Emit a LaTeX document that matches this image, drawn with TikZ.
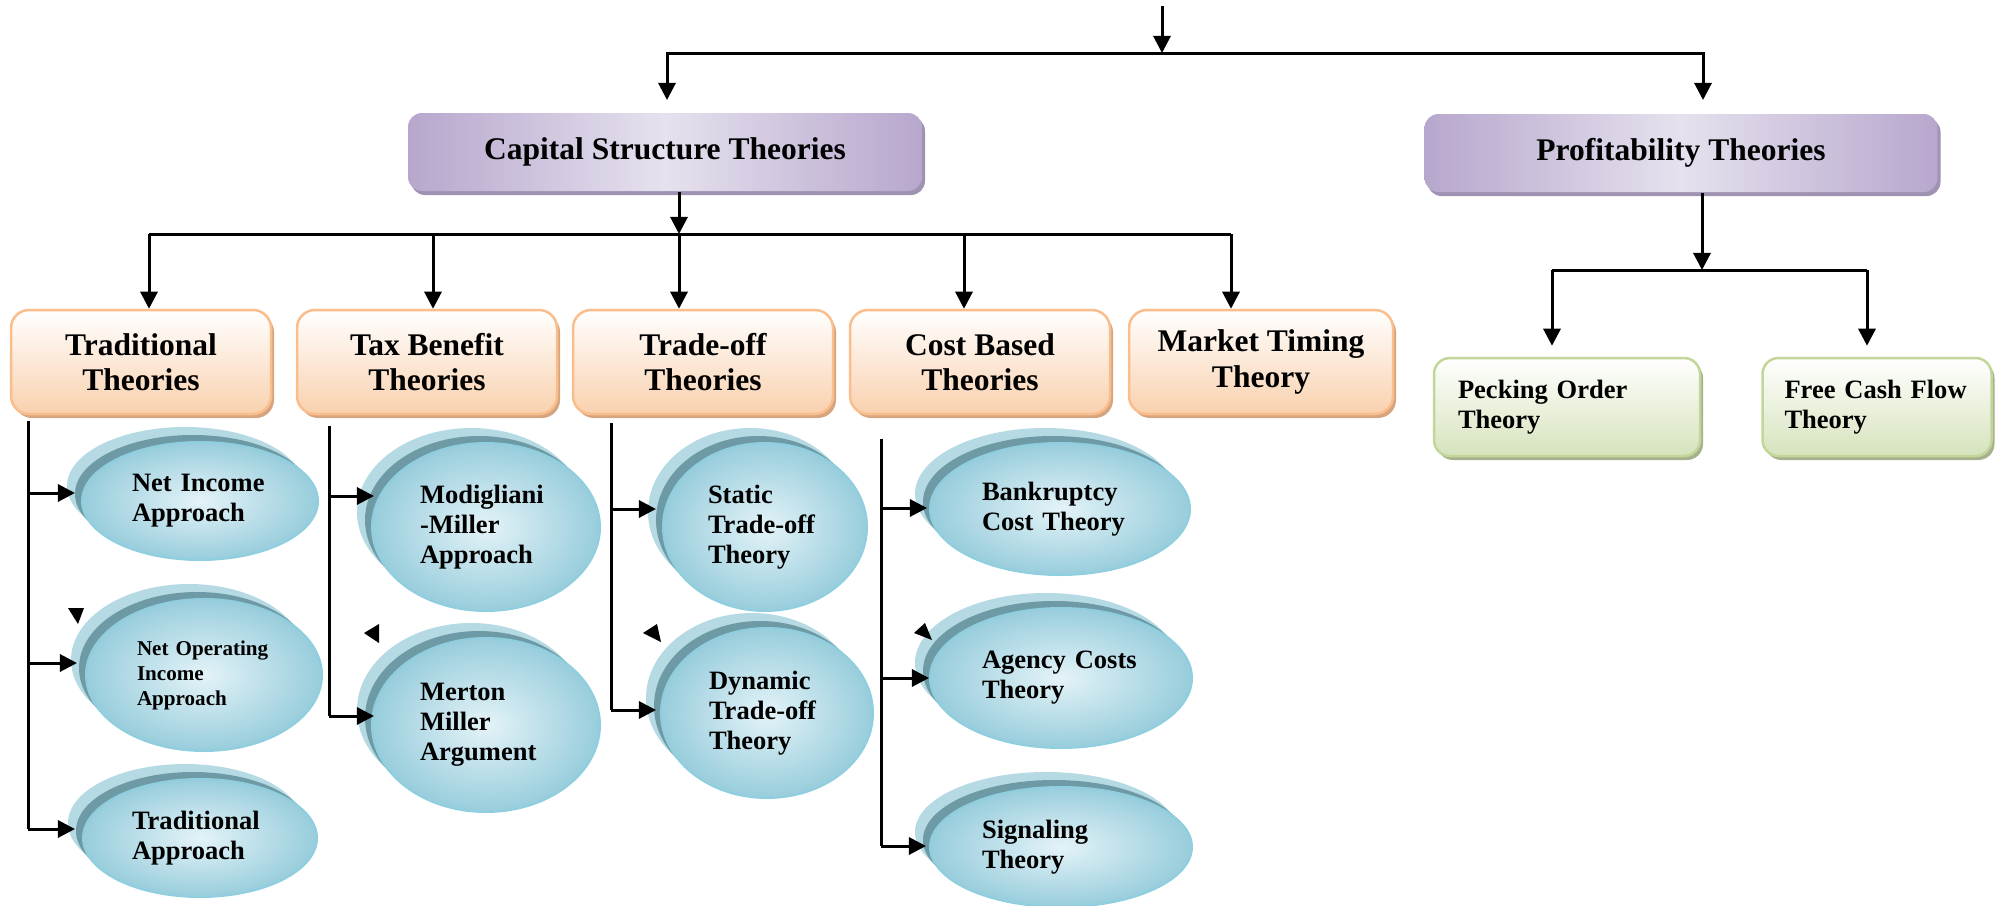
\documentclass[tikz,border=0pt]{standalone}
\usepackage{fontspec}
\setmainfont{Liberation Serif}
\usetikzlibrary{arrows.meta,shapes.geometric,shadows}

\newlength{\du}
\setlength{\du}{0.01cm}

\definecolor{capedge}{RGB}{183,167,205}
\definecolor{caplight}{RGB}{230,225,238}
\definecolor{capshadow}{RGB}{160,146,178}
\definecolor{grpborder}{RGB}{249,190,140}
\definecolor{grpfill}{RGB}{249,209,174}
\definecolor{grpshadow}{RGB}{214,165,128}
\definecolor{prfborder}{RGB}{194,214,154}
\definecolor{prffill}{RGB}{214,227,188}
\definecolor{prfshadow}{RGB}{168,177,141}
\definecolor{ovallight}{RGB}{228,243,248}
\definecolor{ovaldark}{RGB}{152,205,220}
\definecolor{ovalborder}{RGB}{143,206,222}
\definecolor{ovalbandcol}{RGB}{110,154,165}
\definecolor{ovalbackcol}{RGB}{182,218,227}

\tikzset{
  conn/.style={draw=black, line width=3\du},
  arr/.style={conn, -{Triangle[length=0.17cm,width=0.17cm]}},
  capbox/.style={rectangle, rounded corners=14\du, minimum height=78\du,
    left color=capedge, right color=capedge, middle color=caplight,
    drop shadow={shadow xshift=3\du, shadow yshift=-4\du, fill=capshadow, opacity=1},
    font=\fontsize{8.96}{10}\selectfont\bfseries},
  grpbox/.style={rectangle, rounded corners=18\du, minimum width=260\du, minimum height=104\du,
    draw=grpborder, line width=2.5\du, top color=white, bottom color=grpfill,
    drop shadow={shadow xshift=3\du, shadow yshift=-4\du, fill=grpshadow, opacity=1},
    align=center, font=\fontsize{8.96}{10}\selectfont\bfseries},
  prfbox/.style={rectangle, rounded corners=16\du, minimum height=98\du, inner xsep=0pt,
    draw=prfborder, line width=2.5\du, top color=white, bottom color=prffill,
    drop shadow={shadow xshift=3\du, shadow yshift=-4\du, fill=prfshadow, opacity=1},
    align=left, font=\fontsize{7.54}{8.5}\selectfont\bfseries},
  oval/.style={ellipse, inner sep=0pt, draw=ovalborder, line width=2\du,
    inner color=ovallight, outer color=ovaldark,
    align=left, font=\fontsize{7.54}{8.5}\selectfont\bfseries},
  ovalback/.style={fill=ovalbackcol},
  ovalband/.style={fill=ovalbandcol}
}

% oval with two back layers: [options], name, x, y, rx, ry, text
\newcommand{\theoryoval}[7][]{%
  \fill[ovalback] (#3\du-15\du,#4\du-15\du) ellipse ({#5\du} and {#6\du});
  \fill[ovalband] (#3\du-7\du,#4\du-7\du) ellipse ({#5\du} and {#6\du});
  \node[oval, minimum width=2*#5\du, minimum height=2*#6\du, #1] (#2) at (#3\du,#4\du) {#7};
}

\begin{document}
\begin{tikzpicture}
\pgftransformxscale{1.000000}
\pgftransformyscale{-1.000000}
\useasboundingbox (0\du,0\du) rectangle (1999\du,906\du);

% top level
\node[capbox, minimum width=514\du] (capital) at (665\du,152\du) {Capital Structure Theories};
\node[capbox, minimum width=513\du] (profit) at (1681\du,153\du) {Profitability Theories};

\coordinate (root) at (1162\du,6\du);
\coordinate (rootbus) at (1162\du,53\du);
\coordinate (capin) at (667\du,100\du);
\coordinate (profin) at (1703\du,100\du);
\draw[arr] (root) -- (rootbus);
\draw[arr] (rootbus) -| (capin);
\draw[arr] (rootbus) -| (profin);

% capital structure groups
\node[grpbox] (trad) at (141\du,362\du) {Traditional\\Theories};
\node[grpbox] (tax) at (427\du,362\du) {Tax Benefit\\Theories};
\node[grpbox] (tradeoff) at (703\du,362\du) {Trade-off\\Theories};
\node[grpbox] (cost) at (980\du,362\du) {Cost Based\\Theories};
\node[grpbox, minimum width=264\du] (market) at (1261\du,362\du) {Market Timing\\Theory};

\coordinate (capbus) at (679\du,234\du);
\coordinate (busl) at (149\du,234\du);
\coordinate (busr) at (1231\du,234\du);
\coordinate (dtax) at (433\du,234\du);
\coordinate (dcost) at (964\du,234\du);
\draw[conn] (busl) -- (busr);
\draw[arr] (capital.south -| capbus) -- (capbus);
\draw[arr] (busl) -- (busl |- trad.north);
\draw[arr] (dtax) -- (dtax |- tax.north);
\draw[arr] (capbus) -- (capbus |- tradeoff.north);
\draw[arr] (dcost) -- (dcost |- cost.north);
\draw[arr] (busr) -- (busr |- market.north);

% profitability
\node[prfbox, minimum width=266\du, text width=218\du] (pecking) at (1567\du,407\du) {Pecking Order\\Theory};
\node[prfbox, minimum width=229\du, text width=185\du] (freecash) at (1877\du,407\du) {Free Cash Flow\\Theory};

\coordinate (profbus) at (1702\du,270\du);
\coordinate (pbl) at (1552\du,270\du);
\coordinate (pbr) at (1867\du,270\du);
\draw[arr] (profit.south -| profbus) -- (profbus);
\draw[conn] (pbl) -- (pbr);
\draw[arr, shorten >=11\du] (pbl) -- (pbl |- pecking.north);
\draw[arr, shorten >=11\du] (pbr) -- (pbr |- freecash.north);

% ovals
\theoryoval[text width=136\du]{ni}{200}{501}{118}{59}{Net Income\\Approach}
\theoryoval[text width=134\du, font=\fontsize{6}{7.1}\selectfont\bfseries]{noi}{204}{675}{118}{76}{Net Operating\\Income\\Approach}
\theoryoval[text width=136\du]{ta}{200}{838}{117}{59}{Traditional\\Approach}
\theoryoval[text width=132\du]{mm}{486}{527}{114}{84}{Modigliani\\-Miller\\Approach}
\theoryoval[text width=132\du]{mer}{486}{725}{114}{87}{Merton\\Miller\\Argument}
\theoryoval[text width=114\du]{sto}{765}{527}{102}{84}{Static\\Trade-off\\Theory}
\theoryoval[text width=116\du]{dto}{767}{713}{106}{85}{Dynamic\\Trade-off\\Theory}
\theoryoval[text width=156\du]{bank}{1060}{509}{130}{66}{Bankruptcy\\Cost Theory}
\theoryoval[text width=158\du]{agency}{1061}{678}{131}{70}{Agency Costs\\Theory}
\theoryoval[text width=158\du]{sig}{1061}{847}{131}{60}{Signaling\\Theory}

% branch lines
\coordinate (c1top) at (28\du,421\du);
\coordinate (a11) at (28\du,493\du);
\coordinate (a12) at (28\du,663\du);
\coordinate (a13) at (28\du,829\du);
\draw[conn] (c1top) -- (a13);
\draw[arr, shorten >=6\du] (a11) -- (a11 -| ni.west);
\draw[arr, shorten >=8\du] (a12) -- (a12 -| noi.west);
\draw[arr, shorten >=7\du] (a13) -- (a13 -| ta.west);

\coordinate (c2top) at (329\du,426\du);
\coordinate (a21) at (329\du,496\du);
\coordinate (a22) at (329\du,716\du);
\draw[conn] (c2top) -- (a22);
\draw[arr, shorten >=-3\du] (a21) -- (a21 -| mm.west);
\draw[arr, shorten >=-3\du] (a22) -- (a22 -| mer.west);

\coordinate (c3top) at (611\du,423\du);
\coordinate (a31) at (611\du,509\du);
\coordinate (a32) at (611\du,710\du);
\draw[conn] (c3top) -- (a32);
\draw[arr, shorten >=6\du] (a31) -- (a31 -| sto.west);
\draw[arr, shorten >=4\du] (a32) -- (a32 -| dto.west);

\coordinate (c4top) at (881\du,439\du);
\coordinate (a41) at (881\du,508\du);
\coordinate (a42) at (881\du,678\du);
\coordinate (a43) at (881\du,846\du);
\draw[conn] (c4top) -- (a43);
\draw[arr, shorten >=2\du] (a41) -- (a41 -| bank.west);
\draw[arr] (a42) -- (a42 -| agency.west);
\draw[arr, shorten >=3\du] (a43) -- (a43 -| sig.west);

% loose arrow heads
\fill (68\du,608\du)--(84\du,608\du)--(78\du,624\du)--cycle;
\fill (364\du,633\du)--(379\du,624\du)--(379\du,643\du)--cycle;
\fill (643\du,633\du)--(657\du,624\du)--(661\du,642\du)--cycle;
\fill (914\du,633\du)--(925\du,623\du)--(932\du,640\du)--cycle;
\end{tikzpicture}
\end{document}
